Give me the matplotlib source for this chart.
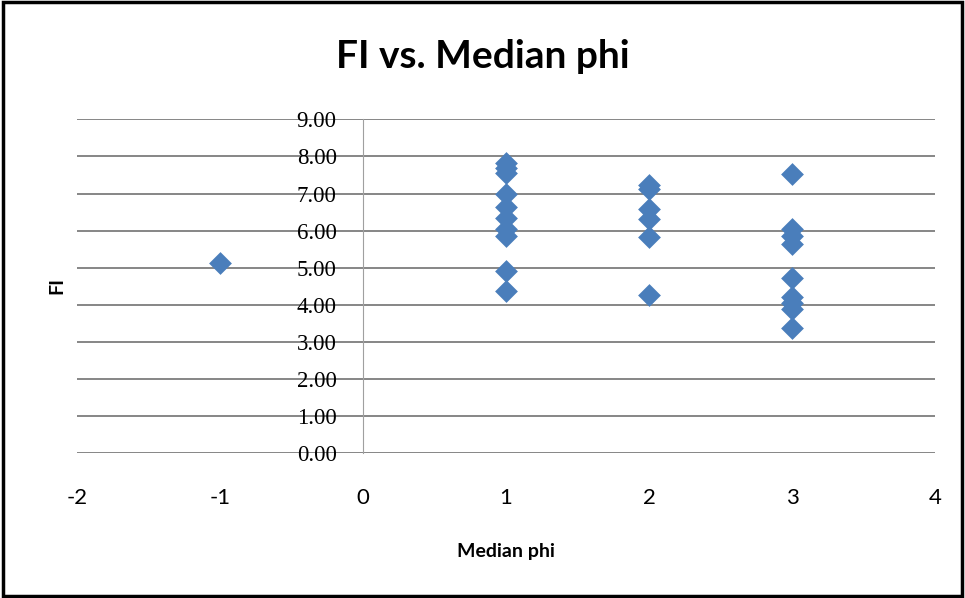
import matplotlib
matplotlib.use('Agg')
from matplotlib import pyplot as plt
from matplotlib.patches import Rectangle

# dados
median_phi = [-1,
              1, 1, 1, 1, 1, 1, 1, 1, 1, 1,
              2, 2, 2, 2, 2, 2,
              3, 3, 3, 3, 3, 3, 3, 3, 3]
fi = [5.12,
      7.82, 7.68, 7.55, 7.00, 6.65, 6.33, 6.05, 5.85, 4.92, 4.36,
      7.22, 7.12, 6.58, 6.30, 5.84, 4.27,
      7.52, 6.05, 5.85, 5.65, 4.72, 4.22, 4.05, 3.90, 3.37]
x_ticks = [-2, -1, 0, 1, 2, 3, 4]
y_ticks = [0, 1, 2, 3, 4, 5, 6, 7, 8, 9]

narrow = ['Liberation Sans Narrow', 'Lato', 'DejaVu Sans']

fig = plt.figure(figsize=(9.65, 5.98), dpi=100)
ax = fig.add_axes([0.0798, 0.242, 0.8892, 0.5585])

# eixo y cruzando em x=0 (antes dos rotulos, senao eles sao resetados)
for s in ['top', 'right', 'bottom']:
    ax.spines[s].set_visible(False)
ax.spines['left'].set_position(('data', 0))
ax.spines['left'].set_color('#a0a0a0')

ax.scatter(median_phi, fi, marker='D', s=135, color='#4a7ebb', zorder=3, linewidths=0)

ax.set_xlim(-2, 4)
ax.set_ylim(0, 9)
ax.set_xticks(x_ticks)
ax.set_yticks(y_ticks)
ax.set_yticklabels(['%.2f' % v for v in y_ticks], family='Liberation Serif', fontsize=16.5)
ax.set_xticklabels([str(v) for v in x_ticks], family=narrow, fontsize=16)

# grade horizontal estilo excel
ax.grid(axis='y', color='#868686', linewidth=1.4)
ax.set_axisbelow(True)
ax.tick_params(axis='y', length=0, pad=19)
ax.tick_params(axis='x', length=0, pad=25)

ax.set_xlabel('Median phi', family=narrow, fontweight='bold', fontsize=14, labelpad=25)
fig.text(0.059, 0.523, 'FI', rotation=90, family=narrow, fontweight='bold',
         fontsize=14, ha='center', va='center')
fig.text(0.5, 0.905, 'FI vs. Median phi', family=narrow, fontweight='bold',
         fontsize=28, ha='center', va='center')

# moldura
fig.patches.append(Rectangle((0.003, 0.003), 0.994, 0.994, transform=fig.transFigure,
                             fill=False, edgecolor='black', linewidth=2.5))

fig.savefig('out.png', dpi=100)
